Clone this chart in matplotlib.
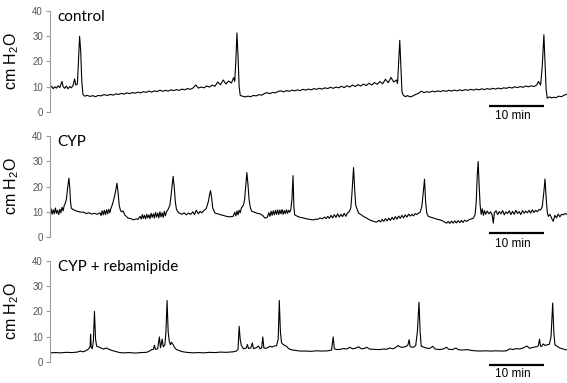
import numpy as np
import matplotlib
matplotlib.use("Agg")
import matplotlib.pyplot as plt

plt.rcParams["font.family"] = ["Liberation Sans", "DejaVu Sans"]
plt.rcParams["mathtext.default"] = "regular"

# panel names and axis ticks
panel_titles = ["control", "CYP", "CYP + rebamipide"]
y_ticks = [0, 10, 20, 30, 40]
y_label = "cm H$_2$O"
bar_label = "10 min"
bar_start = 79.8   # minutes
bar_length = 10    # minutes

# pressure traces: (time in min, cm H2O)
control_trace = np.array([
    (0, 9.5), (0.3, 10.1), (0.6, 9.2), (0.9, 9.9), (1.2, 9.4), (1.5, 10.3), (1.8, 9.6), (2.2, 12.0),
    (2.4, 10.0), (2.7, 9.3), (3.0, 10.2), (3.3, 9.1), (3.6, 10.0), (3.9, 9.5), (4.2, 10.4), (4.5, 13.0),
    (4.7, 10.6), (5.0, 11.0), (5.2, 20.0), (5.4, 29.9), (5.6, 24.0), (5.8, 12.0), (6.0, 7.0), (6.3, 6.2),
    (6.8, 6.5), (7.3, 6.1), (7.8, 6.4), (8.3, 6.0), (8.8, 6.5), (9.3, 6.3), (9.8, 6.8), (10.5, 6.5),
    (11, 6.9), (11.5, 6.6), (12, 7.1), (12.5, 6.9), (13, 7.3), (13.5, 7.0), (14, 7.5), (14.5, 7.2),
    (15, 7.6), (15.5, 7.4), (16, 7.8), (16.5, 7.5), (17, 8.0), (17.5, 7.7), (18, 8.2), (18.5, 7.8),
    (19, 8.3), (19.5, 8.0), (20, 8.6), (20.5, 8.1), (21, 8.5), (21.5, 8.2), (22, 8.7), (22.5, 8.4),
    (23, 8.8), (23.5, 8.5), (24, 9.0), (24.5, 8.7), (25, 9.2), (25.5, 8.9), (26, 9.4), (26.5, 10.6),
    (27, 9.4), (27.5, 9.8), (28, 9.5), (28.5, 10.2), (29, 9.8), (29.5, 10.6), (30, 10.1), (30.5, 11.8),
    (31, 10.7), (31.5, 12.6), (32, 11.0), (32.5, 12.2), (33, 11.4), (33.4, 13.5), (33.6, 12.0), (33.8, 20.0),
    (34.0, 31.2), (34.2, 22.0), (34.4, 10.0), (34.6, 6.5), (35, 6.2), (35.5, 5.9), (36, 6.2), (36.5, 6.0),
    (37, 6.5), (37.5, 6.3), (38, 6.8), (38.5, 6.6), (39, 7.2), (39.4, 7.6), (40, 7.2), (40.5, 7.7),
    (41, 7.5), (41.5, 8.1), (42, 8.3), (42.5, 7.9), (43, 8.4), (43.5, 8.1), (44, 8.6), (44.5, 8.3),
    (45, 8.7), (45.5, 8.4), (46, 8.9), (46.5, 8.6), (47, 9.0), (47.5, 8.7), (48, 9.2), (48.5, 8.9),
    (49, 9.3), (49.5, 9.0), (50, 9.5), (50.5, 9.2), (51, 9.7), (51.5, 9.3), (52, 9.8), (52.5, 9.5),
    (53, 10.1), (53.5, 9.6), (54, 10.3), (54.5, 9.8), (55, 10.6), (55.5, 10.0), (56, 10.8), (56.5, 10.2),
    (57, 11.0), (57.5, 10.4), (58, 11.3), (58.5, 10.6), (59, 11.6), (59.5, 10.9), (60, 12.0), (60.5, 11.1),
    (61, 12.9), (61.5, 11.5), (62, 13.6), (62.5, 11.8), (63, 12.6), (63.2, 11.2), (63.4, 20.0), (63.6, 28.3),
    (63.8, 18.0), (64.0, 8.0), (64.2, 6.7), (64.6, 6.0), (65, 6.4), (65.5, 5.9), (66, 6.3), (66.5, 6.9),
    (67, 7.3), (67.5, 8.2), (68, 7.6), (68.5, 8.0), (69, 7.7), (69.5, 8.2), (70, 7.9), (70.5, 8.3),
    (71, 8.0), (71.5, 8.4), (72, 8.1), (72.5, 8.5), (73, 8.2), (73.5, 8.6), (74, 8.3), (74.5, 8.7),
    (75, 8.4), (75.5, 8.8), (76, 8.5), (76.5, 8.9), (77, 8.6), (77.5, 9.0), (78, 8.7), (78.5, 9.1),
    (79, 8.8), (79.5, 9.2), (80, 8.9), (80.5, 9.3), (81, 9.0), (81.5, 9.4), (82, 9.1), (82.5, 9.5),
    (83, 9.3), (83.5, 9.7), (84, 9.4), (84.5, 9.9), (85, 9.6), (85.5, 10.0), (86, 9.7), (86.5, 10.2),
    (87, 9.9), (87.5, 10.3), (88, 10.0), (88.5, 10.6), (88.8, 12.0), (89.2, 10.6), (89.5, 18.0), (89.8, 30.5),
    (90.0, 20.0), (90.2, 9.0), (90.4, 5.4), (90.8, 5.9), (91.2, 5.5), (91.6, 5.8), (92, 5.6), (92.5, 6.2),
    (93, 6.0), (93.5, 6.6), (94, 7.0),
])

cyp_trace = np.array([
    (0, 10.0), (0.2, 11.2), (0.4, 9.0), (0.6, 10.8), (0.8, 9.2), (1.0, 11.5), (1.2, 9.4), (1.4, 10.6),
    (1.6, 8.9), (1.8, 11.0), (2.0, 9.6), (2.2, 11.8), (2.4, 10.4), (2.6, 12.5), (2.8, 13.4), (3.0, 15.0),
    (3.2, 19.0), (3.45, 23.3), (3.6, 20.0), (3.75, 14.0), (3.9, 11.4), (4.3, 10.8), (4.8, 10.3), (5.3, 10.0),
    (5.8, 9.8), (6.1, 9.9), (6.6, 9.3), (7.1, 9.6), (7.6, 9.1), (8.1, 9.4), (8.6, 9.0), (9.1, 9.6),
    (9.3, 8.5), (9.5, 10.4), (9.7, 8.8), (9.9, 10.6), (10.1, 8.9), (10.3, 10.8), (10.5, 9.2), (10.7, 11.0),
    (10.9, 9.6), (11.1, 11.4), (11.3, 12.5), (11.5, 14.0), (11.8, 16.5), (12.0, 19.0), (12.2, 21.3), (12.4, 17.5),
    (12.6, 12.5), (12.8, 10.8), (13.0, 10.0), (13.3, 10.3), (13.6, 8.8), (14.2, 7.5), (14.7, 7.3), (15.2, 6.8),
    (15.7, 7.2), (16.0, 7.0), (16.4, 8.2), (16.6, 7.1), (16.8, 8.9), (17.0, 7.4), (17.2, 8.6), (17.4, 7.2),
    (17.6, 9.0), (17.8, 7.6), (18.0, 8.8), (18.2, 7.3), (18.4, 9.4), (18.6, 7.8), (18.8, 9.2), (19.0, 7.5),
    (19.2, 9.8), (19.4, 7.9), (19.6, 9.5), (19.8, 7.6), (20.0, 10.0), (20.2, 8.0), (20.4, 9.6), (20.6, 7.8),
    (20.8, 10.2), (21.0, 8.4), (21.2, 10.0), (21.5, 11.0), (21.8, 12.5), (22.0, 16.0), (22.2, 20.0), (22.4, 24.0),
    (22.6, 20.0), (22.8, 14.0), (23.0, 11.0), (23.3, 9.9), (23.6, 9.4), (24.0, 9.0), (24.4, 9.6), (24.8, 8.8),
    (25.2, 9.5), (25.6, 9.0), (26.0, 10.0), (26.3, 8.9), (26.6, 10.6), (27.0, 9.2), (27.3, 10.2), (27.6, 9.6),
    (28.0, 10.5), (28.4, 11.2), (28.8, 14.0), (29.0, 16.5), (29.2, 18.4), (29.4, 15.5), (29.6, 11.5), (30.0, 9.5),
    (30.5, 9.2), (31.0, 8.9), (31.5, 8.6), (32.1, 8.2), (32.7, 8.0), (33.3, 8.2), (33.6, 9.8), (33.8, 8.4),
    (34.0, 10.3), (34.2, 8.8), (34.4, 10.6), (34.6, 9.6), (34.8, 11.5), (35.0, 12.0), (35.2, 12.8), (35.4, 15.0),
    (35.6, 20.0), (35.8, 25.5), (36.0, 21.0), (36.2, 15.0), (36.45, 11.5), (36.7, 10.2), (37.2, 9.8), (37.7, 9.4),
    (38.2, 9.2), (38.7, 8.5), (39.1, 7.5), (39.5, 7.8), (39.8, 9.6), (40.0, 8.2), (40.2, 10.2), (40.4, 8.6),
    (40.6, 10.4), (40.8, 8.8), (41.0, 10.6), (41.2, 9.0), (41.4, 10.8), (41.6, 8.9), (41.8, 10.7), (42.0, 9.2),
    (42.2, 10.9), (42.4, 9.0), (42.6, 10.5), (42.8, 9.3), (43.0, 10.8), (43.2, 9.4), (43.4, 10.6), (43.6, 9.8),
    (43.8, 11.0), (44.0, 15.0), (44.2, 24.3), (44.35, 12.0), (44.5, 8.8), (45.0, 8.2), (45.5, 7.8), (46.0, 7.6),
    (46.5, 7.3), (47.0, 7.1), (47.5, 6.9), (47.9, 6.8), (48.3, 7.1), (48.7, 7.0), (49.1, 7.6), (49.5, 7.2),
    (49.9, 7.9), (50.2, 7.3), (50.5, 8.2), (50.8, 7.4), (51.1, 8.6), (51.4, 7.6), (51.7, 8.9), (52.0, 7.8),
    (52.3, 9.2), (52.6, 7.9), (52.9, 9.0), (53.2, 8.1), (53.5, 9.4), (53.8, 8.2), (54.1, 9.6), (54.4, 10.0),
    (54.7, 11.5), (54.9, 17.0), (55.2, 27.5), (55.4, 19.0), (55.6, 12.5), (56.1, 9.5), (56.6, 8.8), (57.1, 8.0),
    (57.6, 7.5), (58.1, 6.8), (58.6, 6.4), (59.0, 6.1), (59.4, 5.9), (59.8, 6.6), (60.1, 6.0), (60.4, 7.0),
    (60.7, 6.2), (61.0, 7.3), (61.3, 6.4), (61.6, 7.5), (61.9, 6.6), (62.2, 7.8), (62.5, 6.9), (62.8, 8.1),
    (63.1, 7.1), (63.4, 8.3), (63.7, 7.4), (64.0, 8.6), (64.3, 7.6), (64.6, 8.8), (64.9, 7.9), (65.2, 9.1),
    (65.5, 8.3), (65.8, 9.0), (66.1, 8.4), (66.4, 9.3), (66.7, 8.9), (67.0, 9.5), (67.3, 9.8), (67.6, 12.0),
    (67.8, 16.0), (68.1, 22.9), (68.3, 14.0), (68.5, 9.5), (68.8, 8.2), (69.3, 7.8), (69.8, 7.5), (70.3, 7.1),
    (70.9, 6.8), (71.3, 6.5), (71.7, 6.0), (72.1, 5.5), (72.4, 6.2), (72.7, 5.4), (73.0, 6.3), (73.3, 5.5),
    (73.6, 6.4), (73.9, 5.6), (74.2, 6.5), (74.5, 5.7), (74.8, 6.6), (75.1, 5.8), (75.4, 6.7), (75.8, 6.2),
    (76.2, 6.9), (76.6, 7.2), (77.0, 7.5), (77.3, 9.0), (77.5, 14.0), (77.7, 25.0), (77.85, 29.9), (78.0, 22.0),
    (78.2, 12.8), (78.4, 9.0), (78.6, 11.2), (78.8, 8.6), (79.0, 10.5), (79.2, 9.0), (79.5, 10.3), (79.8, 9.2),
    (80.1, 10.0), (80.4, 8.8), (80.6, 5.5), (80.8, 9.6), (81.1, 10.4), (81.4, 8.9), (81.7, 10.1), (82.0, 9.2),
    (82.3, 10.5), (82.6, 8.8), (82.9, 10.0), (83.2, 9.3), (83.5, 10.4), (83.8, 8.9), (84.1, 10.2), (84.4, 9.0),
    (84.7, 10.6), (85.0, 9.3), (85.3, 10.1), (85.6, 8.9), (85.9, 10.5), (86.2, 9.4), (86.5, 10.3), (86.8, 9.6),
    (87.1, 10.6), (87.4, 9.5), (87.7, 10.8), (88.0, 9.7), (88.3, 10.6), (88.6, 10.0), (88.9, 10.9), (89.2, 10.7),
    (89.5, 12.0), (89.8, 18.0), (90.0, 23.0), (90.2, 16.0), (90.4, 10.0), (90.6, 8.2), (90.9, 9.0), (91.2, 7.5),
    (91.5, 6.2), (91.8, 8.6), (92.1, 7.6), (92.4, 9.1), (92.7, 8.0), (93.0, 9.0), (93.3, 8.8), (93.6, 9.3),
    (94.0, 9.0),
])

rebamipide_trace = np.array([
    (0, 3.6), (1, 3.7), (2, 3.6), (3, 3.8), (4, 3.7), (5, 3.9), (5.5, 4.3), (6.0, 4.0),
    (6.5, 4.4), (7.0, 5.1), (7.3, 6.0), (7.4, 11.0), (7.5, 6.0), (7.7, 5.2), (7.9, 8.0), (8.1, 20.0),
    (8.3, 9.0), (8.5, 6.2), (9.0, 5.8), (9.7, 5.1), (10.3, 5.5), (10.8, 4.9), (11.5, 4.4), (12.0, 4.1),
    (12.7, 3.7), (13.5, 3.6), (14.5, 3.7), (15.5, 3.5), (16.5, 3.7), (17.6, 3.8), (18.1, 4.3), (18.5, 4.9),
    (18.8, 4.9), (19.0, 6.6), (19.2, 5.0), (19.6, 5.2), (19.9, 9.9), (20.1, 5.6), (20.4, 9.0), (20.6, 6.0),
    (20.9, 6.8), (21.1, 12.0), (21.3, 24.3), (21.5, 12.0), (21.7, 8.2), (21.9, 6.8), (22.1, 7.8), (22.4, 6.8),
    (22.7, 5.6), (23.0, 4.9), (23.5, 4.5), (24.0, 4.1), (24.8, 3.8), (26.0, 3.6), (27.0, 3.7), (28.0, 3.6),
    (29.0, 3.8), (30.0, 3.7), (31.0, 3.9), (32.0, 3.8), (33.3, 4.0), (33.9, 4.3), (34.2, 5.0), (34.4, 14.1),
    (34.6, 8.8), (34.8, 6.5), (35.2, 5.2), (35.7, 5.5), (35.9, 6.9), (36.1, 5.3), (36.5, 5.5), (36.8, 7.5),
    (37.0, 5.3), (37.5, 5.6), (37.9, 6.3), (38.2, 5.2), (38.5, 5.6), (38.7, 9.9), (38.9, 5.5), (39.3, 5.4),
    (39.7, 5.8), (40.0, 6.2), (40.4, 5.9), (40.8, 6.3), (41.2, 6.4), (41.5, 9.0), (41.7, 24.3), (41.9, 12.0),
    (42.1, 7.6), (42.3, 7.1), (42.7, 6.5), (43.0, 6.2), (43.3, 5.5), (43.6, 5.0), (44.2, 4.7), (44.8, 4.5),
    (45.5, 4.3), (46.5, 4.3), (47.5, 4.2), (48.5, 4.4), (49.5, 4.3), (50.5, 4.4), (51.2, 4.7), (51.5, 9.9),
    (51.7, 5.2), (52.1, 4.9), (52.8, 5.0), (53.5, 5.3), (54.0, 5.1), (54.5, 5.8), (55.0, 5.2), (55.5, 5.4),
    (56.1, 6.0), (56.6, 5.2), (57.1, 5.3), (57.6, 5.8), (58.1, 5.1), (58.8, 5.0), (59.4, 4.9), (60.0, 4.9),
    (60.6, 5.1), (61.2, 5.0), (61.8, 5.5), (62.3, 5.2), (62.8, 5.6), (63.3, 6.5), (63.7, 5.9), (64.2, 5.8),
    (64.8, 6.2), (65.1, 6.8), (65.3, 8.8), (65.5, 6.0), (65.8, 5.9), (66.1, 5.8), (66.5, 6.5), (66.8, 12.0),
    (67.0, 20.0), (67.1, 23.6), (67.3, 12.0), (67.5, 6.2), (68.0, 5.8), (68.4, 5.5), (69.0, 5.3), (69.6, 6.2),
    (70.0, 5.1), (70.5, 5.0), (70.9, 4.9), (71.5, 5.1), (72.1, 5.8), (72.5, 5.0), (73.2, 4.9), (73.8, 5.5),
    (74.3, 4.8), (75.0, 4.7), (75.8, 4.9), (76.5, 4.6), (77.3, 4.4), (78.2, 4.3), (79.2, 4.4), (80.2, 4.3),
    (81.2, 4.4), (82.2, 4.3), (83.0, 4.4), (83.6, 5.2), (84.2, 4.9), (84.8, 5.3), (85.4, 5.1), (86.0, 5.5),
    (86.7, 6.3), (87.2, 5.4), (87.9, 5.8), (88.5, 6.0), (88.8, 6.5), (89.0, 9.0), (89.2, 6.2), (89.4, 6.2),
    (89.7, 7.1), (90.0, 6.5), (90.4, 6.8), (90.8, 7.0), (91.1, 10.0), (91.4, 23.3), (91.6, 12.0), (91.8, 6.8),
    (92.2, 6.2), (92.7, 5.5), (93.2, 5.2), (93.6, 4.9), (94.0, 4.8),
])

traces = [control_trace, cyp_trace, rebamipide_trace]
bar_y = [2.4, 1.5, -1.2]        # vertical spot of the 10 min bar in each panel
bar_text_y = [-1.8, -2.8, -4.8]
bar_text_x = 84.2

fig = plt.figure(figsize=(5.67, 3.83), dpi=100)
bottoms = [0.708, 0.381, 0.055]

for i in range(3):
    ax = fig.add_axes([0.088, bottoms[i], 0.912, 0.264])
    data = traces[i]
    ax.plot(data[:, 0], data[:, 1], color="black", lw=0.8)
    ax.set_xlim(0, 94)
    ax.set_ylim(0, 40)
    ax.set_yticks(y_ticks)
    for side in ["top", "right", "bottom"]:
        ax.spines[side].set_visible(False)
    ax.spines["left"].set_color("#9a9a9a")
    ax.spines["left"].set_linewidth(0.8)
    ax.set_xticks([])
    ax.tick_params(axis="y", length=3, width=0.8, color="#9a9a9a",
                   labelsize=7, labelcolor="#555555", pad=2)
    ax.set_ylabel(y_label, fontsize=11.5)
    ax.yaxis.set_label_coords(-0.056, 0.5)

    ax.text(1.4, 37.5, panel_titles[i], fontsize=11, va="center",
            family=["Lato", "DejaVu Sans"])

    # scale bar
    ax.plot([bar_start, bar_start + bar_length], [bar_y[i], bar_y[i]],
            color="black", lw=1.6, clip_on=False, solid_capstyle="butt")
    ax.text(bar_text_x, bar_text_y[i], bar_label, fontsize=8.5,
            ha="center", va="center", clip_on=False)

fig.savefig("out.png", dpi=100)
